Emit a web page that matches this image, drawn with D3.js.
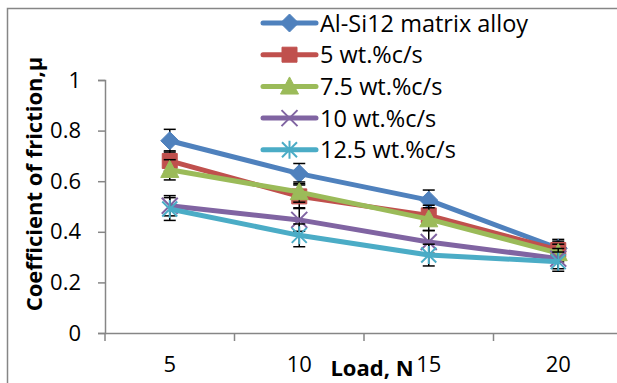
<!DOCTYPE html>
<html>
<head>
<meta charset="utf-8">
<script src="https://cdn.jsdelivr.net/npm/d3@7"></script>
<style>
  body { margin: 0; background: #fff; }
  svg { display: block; font-family: "Open Sans", "Noto Sans", sans-serif; }
</style>
</head>
<body>
<div id="chart"></div>
<script>
// Load categories (N)
const loads = ['5', '10', '15', '20'];
const yTicks = [0, 0.2, 0.4, 0.6, 0.8, 1];

// Coefficient of friction per series
const seriesNames = ['Al-Si12 matrix alloy', '5 wt.%c/s', '7.5 wt.%c/s', '10 wt.%c/s', '12.5 wt.%c/s'];
const matrixAlloy = [0.76, 0.63, 0.525, 0.335];
const cs5 = [0.68, 0.54, 0.465, 0.328];
const cs75 = [0.645, 0.557, 0.45, 0.316];
const cs10 = [0.503, 0.447, 0.36, 0.294];
const cs125 = [0.49, 0.386, 0.308, 0.282];

// error bar half-widths
const errMatrix = [0.045, 0.04, 0.04, 0.035];
const err5 = [0.04, 0.045, 0.04, 0.035];
const err75 = [0.04, 0.04, 0.045, 0.035];
const err10 = [0.04, 0.045, 0.045, 0.04];
const err125 = [0.045, 0.045, 0.043, 0.038];

const colors = ['#4F81BD', '#C0504D', '#9BBB59', '#8064A2', '#4BACC6'];
const markers = ['diamond', 'square', 'triangle', 'x', 'star'];
const values = [matrixAlloy, cs5, cs75, cs10, cs125];
const errors = [errMatrix, err5, err75, err10, err125];

const width = 617, height = 383;
const svg = d3.select('#chart').append('svg')
  .attr('width', width).attr('height', height);

// outer chart border (runs off the right and bottom)
svg.append('path')
  .attr('d', `M7.5,${height + 5}V8.5H${width + 5}`)
  .attr('fill', 'none').attr('stroke', '#868686').attr('stroke-width', 1.5);

const x = d3.scaleBand().domain(loads).range([105, 623]).padding(0);
const y = d3.scaleLinear().domain([0, 1]).range([333, 80]);

// Y axis
const yAxis = svg.append('g')
  .attr('transform', 'translate(105,0)')
  .call(d3.axisLeft(y).tickValues(yTicks).tickSize(7).tickPadding(17).tickFormat(d3.format('~g')));
yAxis.select('.domain').attr('stroke', '#868686').attr('stroke-width', 1.5);
yAxis.selectAll('.tick line').attr('stroke', '#868686').attr('stroke-width', 1.5);
yAxis.selectAll('.tick text').attr('font-size', 22).attr('fill', '#000')
  .attr('font-family', '"Open Sans", sans-serif');

// X axis: labels centred on categories, ticks between categories
const xAxis = svg.append('g')
  .attr('transform', 'translate(0,333)')
  .call(d3.axisBottom(x).tickSize(0).tickPadding(23));
xAxis.select('.domain').attr('stroke', '#868686').attr('stroke-width', 1.5);
xAxis.selectAll('.tick text').attr('font-size', 22).attr('fill', '#000')
  .attr('font-family', '"Open Sans", sans-serif');
xAxis.selectAll('.tickmark')
  .data(d3.range(loads.length + 1))
  .join('line')
  .attr('x1', i => x.range()[0] + i * x.step())
  .attr('x2', i => x.range()[0] + i * x.step())
  .attr('y1', 0).attr('y2', 8)
  .attr('stroke', '#868686').attr('stroke-width', 1.5);

// axis titles
svg.append('text')
  .attr('transform', 'translate(42,184) rotate(-90)')
  .attr('text-anchor', 'middle')
  .attr('font-size', 22).attr('font-weight', 'bold')
  .text('Coefficient of friction,μ');

svg.append('text')
  .attr('x', 372).attr('y', 376)
  .attr('text-anchor', 'middle')
  .attr('font-size', 22).attr('font-weight', 'bold')
  .text('Load, N');

function markerPath(type, s) {
  const p = d3.path();
  if (type === 'diamond') {
    p.moveTo(0, -s); p.lineTo(s, 0); p.lineTo(0, s); p.lineTo(-s, 0); p.closePath();
  } else if (type === 'square') {
    p.rect(-s, -s, 2 * s, 2 * s);
  } else if (type === 'triangle') {
    p.moveTo(0, -s * 1.05); p.lineTo(s, s * 0.85); p.lineTo(-s, s * 0.85); p.closePath();
  } else {
    p.moveTo(-s, -s); p.lineTo(s, s);
    p.moveTo(-s, s); p.lineTo(s, -s);
    if (type === 'star') { p.moveTo(0, -s * 1.2); p.lineTo(0, s * 1.2); }
  }
  return p.toString();
}
const markerSize = { diamond: 9, square: 7.5, triangle: 9, x: 8, star: 7.5 };

function drawMarker(g, type, color, cx, cy) {
  const filled = type === 'diamond' || type === 'square' || type === 'triangle';
  g.append('path')
    .attr('transform', `translate(${cx},${cy})`)
    .attr('d', markerPath(type, markerSize[type]))
    .attr('fill', filled ? color : 'none')
    .attr('stroke', color)
    .attr('stroke-width', filled ? 1 : 2);
}

const line = d3.line()
  .x((d, i) => x(loads[i]) + x.bandwidth() / 2)
  .y(d => y(d));

values.forEach((vals, si) => {
  const g = svg.append('g');
  const errs = errors[si];
  // error bars
  vals.forEach((v, i) => {
    const cx = x(loads[i]) + x.bandwidth() / 2;
    const top = y(v + errs[i]), bot = y(v - errs[i]);
    g.append('line').attr('x1', cx).attr('x2', cx).attr('y1', top).attr('y2', bot)
      .attr('stroke', '#000').attr('stroke-width', 1.5);
    [top, bot].forEach(yy => g.append('line')
      .attr('x1', cx - 6).attr('x2', cx + 6).attr('y1', yy).attr('y2', yy)
      .attr('stroke', '#000').attr('stroke-width', 1.5));
  });
  g.append('path').datum(vals)
    .attr('fill', 'none')
    .attr('stroke', colors[si])
    .attr('stroke-width', 5)
    .attr('stroke-linejoin', 'round')
    .attr('d', line);
  vals.forEach((v, i) => drawMarker(g, markers[si], colors[si], x(loads[i]) + x.bandwidth() / 2, y(v)));
});

// legend
const legend = svg.append('g');
seriesNames.forEach((name, i) => {
  const ly = 23 + i * 31.7;
  legend.append('line')
    .attr('x1', 263).attr('x2', 316).attr('y1', ly).attr('y2', ly)
    .attr('stroke', colors[i]).attr('stroke-width', 5).attr('stroke-linecap', 'round');
  drawMarker(legend, markers[i], colors[i], 289.5, ly);
  legend.append('text')
    .attr('x', 320).attr('y', ly + 8.5)
    .attr('font-size', 23.5)
    .text(name);
});
</script>
</body>
</html>
